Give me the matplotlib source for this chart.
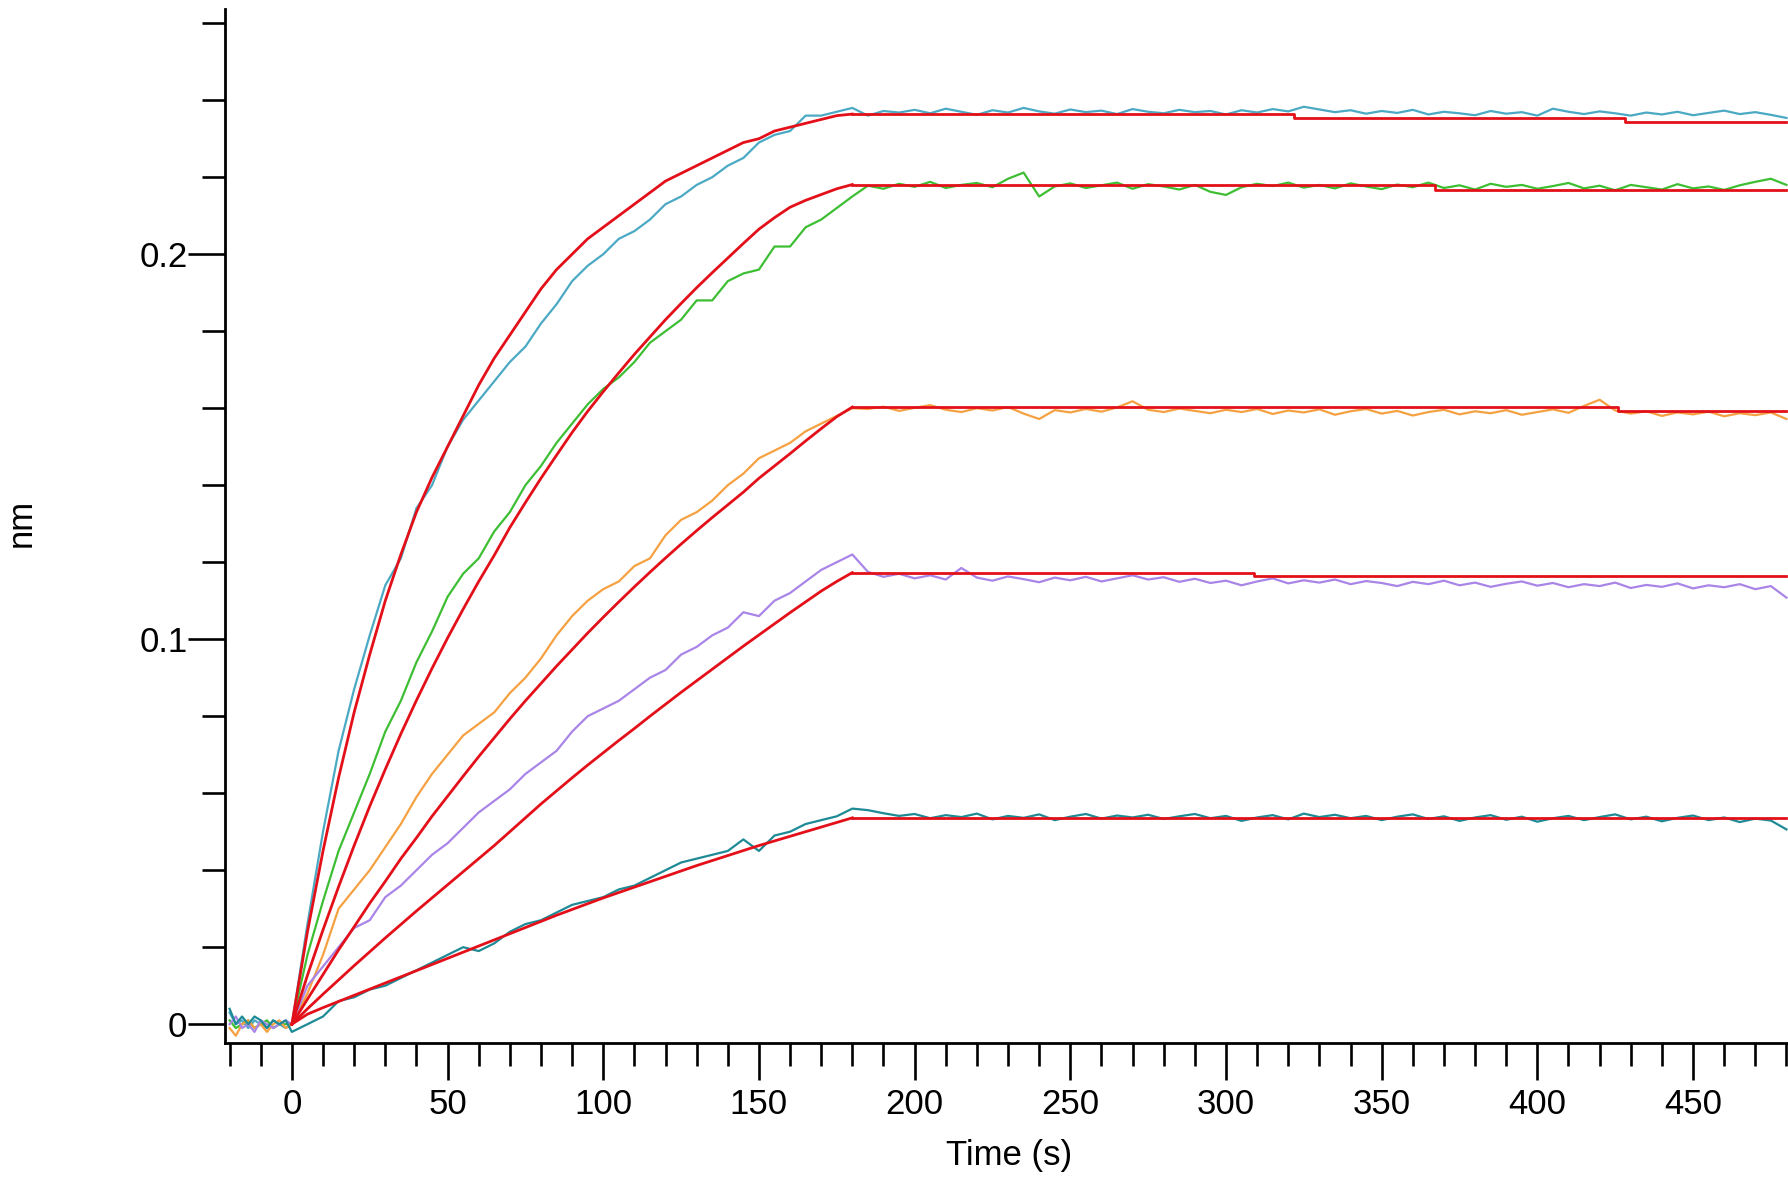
import matplotlib
matplotlib.use("Agg")
import matplotlib.pyplot as plt
from matplotlib.ticker import MultipleLocator, FixedLocator

plt.rcParams['font.family'] = ['Liberation Sans', 'DejaVu Sans']

# sample times (s)
base_t = [-20, -18, -16, -14, -12, -10, -8, -6, -4, -2]
assoc_t = list(range(0, 181, 5))
dissoc_t = list(range(185, 481, 5))

# measured traces (nm): baseline, association, dissociation
cyan_base = [0.003, 0.000, 0.001, -0.001, 0.001, 0.000, -0.001, 0.001, 0.000, -0.001]
cyan_assoc = [0.000, 0.026, 0.050, 0.071, 0.087, 0.101, 0.114, 0.121, 0.134, 0.140,
              0.150, 0.157, 0.162, 0.167, 0.172, 0.176, 0.182, 0.187, 0.193, 0.197,
              0.200, 0.204, 0.206, 0.209, 0.213, 0.215, 0.218, 0.220, 0.223, 0.225,
              0.229, 0.231, 0.232, 0.236, 0.236, 0.237, 0.238]
cyan_dissoc = [0.2360, 0.2372, 0.2368, 0.2375, 0.2366, 0.2378, 0.2370, 0.2362, 0.2374, 0.2368,
               0.2380, 0.2371, 0.2365, 0.2376, 0.2369, 0.2373, 0.2364, 0.2377, 0.2370, 0.2366,
               0.2375, 0.2369, 0.2372, 0.2363, 0.2374, 0.2368, 0.2377, 0.2371, 0.2383, 0.2376,
               0.2369, 0.2374, 0.2365, 0.2372, 0.2367, 0.2375, 0.2363, 0.2370, 0.2366, 0.2361,
               0.2372, 0.2365, 0.2369, 0.2360, 0.2378, 0.2370, 0.2364, 0.2371, 0.2366, 0.2360,
               0.2368, 0.2363, 0.2370, 0.2361, 0.2367, 0.2373, 0.2364, 0.2369, 0.2362, 0.2354]

green_base = [0.001, -0.001, 0.000, 0.001, -0.001, 0.000, 0.001, -0.001, 0.000, 0.000]
green_assoc = [0.000, 0.018, 0.032, 0.045, 0.055, 0.065, 0.076, 0.084, 0.094, 0.102,
               0.111, 0.117, 0.121, 0.128, 0.133, 0.140, 0.145, 0.151, 0.156, 0.161,
               0.165, 0.168, 0.172, 0.177, 0.180, 0.183, 0.188, 0.188, 0.193, 0.195,
               0.196, 0.202, 0.202, 0.207, 0.209, 0.212, 0.215]
green_dissoc = [0.2178, 0.2170, 0.2183, 0.2175, 0.2188, 0.2172, 0.2180, 0.2185, 0.2174, 0.2196,
                0.2212, 0.2150, 0.2176, 0.2184, 0.2172, 0.2179, 0.2186, 0.2170, 0.2182, 0.2176,
                0.2168, 0.2180, 0.2162, 0.2154, 0.2174, 0.2183, 0.2177, 0.2186, 0.2173, 0.2180,
                0.2171, 0.2184, 0.2176, 0.2169, 0.2181, 0.2174, 0.2186, 0.2172, 0.2179, 0.2168,
                0.2183, 0.2175, 0.2180, 0.2170, 0.2177, 0.2185, 0.2171, 0.2178, 0.2166, 0.2180,
                0.2174, 0.2168, 0.2182, 0.2171, 0.2176, 0.2167, 0.2179, 0.2188, 0.2196, 0.2180]

orange_base = [-0.001, -0.003, 0.000, 0.001, -0.001, 0.000, -0.002, 0.000, 0.001, -0.001]
orange_assoc = [0.000, 0.008, 0.018, 0.030, 0.035, 0.040, 0.046, 0.052, 0.059, 0.065,
                0.070, 0.075, 0.078, 0.081, 0.086, 0.090, 0.095, 0.101, 0.106, 0.110,
                0.113, 0.115, 0.119, 0.121, 0.127, 0.131, 0.133, 0.136, 0.140, 0.143,
                0.147, 0.149, 0.151, 0.154, 0.156, 0.158, 0.160]
orange_dissoc = [0.1598, 0.1604, 0.1593, 0.1601, 0.1608, 0.1596, 0.1590, 0.1600, 0.1594, 0.1603,
                 0.1586, 0.1572, 0.1595, 0.1589, 0.1598, 0.1591, 0.1602, 0.1618, 0.1596, 0.1590,
                 0.1599, 0.1593, 0.1587, 0.1596, 0.1590, 0.1598, 0.1585, 0.1594, 0.1589, 0.1597,
                 0.1583, 0.1592, 0.1598, 0.1586, 0.1593, 0.1581, 0.1590, 0.1596, 0.1584, 0.1592,
                 0.1587, 0.1595, 0.1583, 0.1590, 0.1597, 0.1588, 0.1606, 0.1622, 0.1594, 0.1586,
                 0.1592, 0.1580, 0.1589, 0.1584, 0.1591, 0.1579, 0.1587, 0.1582, 0.1589, 0.1572]

purple_base = [0.000, 0.002, -0.001, 0.000, -0.002, 0.001, 0.000, -0.001, 0.000, 0.001]
purple_assoc = [0.000, 0.010, 0.015, 0.020, 0.025, 0.027, 0.033, 0.036, 0.040, 0.044,
                0.047, 0.051, 0.055, 0.058, 0.061, 0.065, 0.068, 0.071, 0.076, 0.080,
                0.082, 0.084, 0.087, 0.090, 0.092, 0.096, 0.098, 0.101, 0.103, 0.107,
                0.106, 0.110, 0.112, 0.115, 0.118, 0.120, 0.122]
purple_dissoc = [0.1175, 0.1162, 0.1170, 0.1158, 0.1166, 0.1155, 0.1185, 0.1160, 0.1152, 0.1163,
                 0.1156, 0.1148, 0.1160, 0.1153, 0.1162, 0.1150, 0.1158, 0.1166, 0.1155, 0.1161,
                 0.1149, 0.1157, 0.1146, 0.1152, 0.1140, 0.1150, 0.1158, 0.1145, 0.1153, 0.1147,
                 0.1155, 0.1143, 0.1151, 0.1146, 0.1138, 0.1149, 0.1143, 0.1152, 0.1140, 0.1147,
                 0.1136, 0.1144, 0.1150, 0.1139, 0.1146, 0.1135, 0.1143, 0.1138, 0.1147, 0.1133,
                 0.1141, 0.1136, 0.1145, 0.1132, 0.1140, 0.1135, 0.1143, 0.1130, 0.1138, 0.1108]

teal_base = [0.004, 0.000, 0.002, 0.000, 0.002, 0.001, -0.001, 0.001, 0.000, 0.001]
teal_assoc = [-0.002, 0.000, 0.002, 0.006, 0.007, 0.009, 0.010, 0.012, 0.014, 0.016,
              0.018, 0.020, 0.019, 0.021, 0.024, 0.026, 0.027, 0.029, 0.031, 0.032,
              0.033, 0.035, 0.036, 0.038, 0.040, 0.042, 0.043, 0.044, 0.045, 0.048,
              0.045, 0.049, 0.050, 0.052, 0.053, 0.054, 0.056]
teal_dissoc = [0.0556, 0.0548, 0.0541, 0.0546, 0.0535, 0.0543, 0.0538, 0.0547, 0.0532, 0.0541,
               0.0536, 0.0545, 0.0530, 0.0539, 0.0546, 0.0534, 0.0542, 0.0537, 0.0544, 0.0533,
               0.0540, 0.0546, 0.0535, 0.0541, 0.0528, 0.0537, 0.0543, 0.0532, 0.0547, 0.0538,
               0.0544, 0.0535, 0.0541, 0.0530, 0.0539, 0.0545, 0.0533, 0.0540, 0.0528, 0.0537,
               0.0543, 0.0531, 0.0539, 0.0526, 0.0535, 0.0541, 0.0530, 0.0538, 0.0545, 0.0532,
               0.0539, 0.0527, 0.0536, 0.0542, 0.0530, 0.0537, 0.0525, 0.0534, 0.0529, 0.0506]

# fitted curves (red): association on assoc_t, dissociation as steps
cyan_fit = [0.000, 0.024, 0.045, 0.064, 0.081, 0.096, 0.110, 0.122, 0.133, 0.142,
            0.150, 0.158, 0.166, 0.173, 0.179, 0.185, 0.191, 0.196, 0.200, 0.204,
            0.207, 0.210, 0.213, 0.216, 0.219, 0.221, 0.223, 0.225, 0.227, 0.229,
            0.230, 0.232, 0.233, 0.234, 0.235, 0.236, 0.2364]
green_fit = [0.000, 0.0127, 0.0245, 0.0357, 0.0464, 0.0566, 0.0662, 0.0754, 0.0841, 0.0924,
             0.1003, 0.1078, 0.1150, 0.1218, 0.1290, 0.1355, 0.1418, 0.1478, 0.1537, 0.1592,
             0.1643, 0.1692, 0.1740, 0.1785, 0.1830, 0.1872, 0.1913, 0.1952, 0.1990, 0.2028,
             0.2065, 0.2095, 0.2122, 0.2140, 0.2155, 0.2170, 0.2181]
orange_fit = [0.000, 0.0065, 0.0129, 0.0193, 0.0253, 0.0314, 0.0371, 0.0430, 0.0484, 0.0540,
              0.0592, 0.0644, 0.0695, 0.0744, 0.0793, 0.0840, 0.0885, 0.0930, 0.0973, 0.1016,
              0.1057, 0.1097, 0.1136, 0.1174, 0.1211, 0.1247, 0.1282, 0.1316, 0.1349, 0.1382,
              0.1418, 0.1450, 0.1482, 0.1515, 0.1547, 0.1578, 0.1603]
purple_fit = [0.000, 0.0040, 0.0078, 0.0115, 0.0152, 0.0188, 0.0224, 0.0259, 0.0294, 0.0328,
              0.0362, 0.0396, 0.0430, 0.0464, 0.0500, 0.0536, 0.0572, 0.0606, 0.0640, 0.0673,
              0.0705, 0.0737, 0.0768, 0.0800, 0.0831, 0.0862, 0.0892, 0.0922, 0.0952, 0.0982,
              0.1011, 0.1040, 0.1069, 0.1097, 0.1125, 0.1150, 0.1173]
teal_fit = [0.000, 0.0026, 0.0043, 0.0059, 0.0075, 0.0091, 0.0107, 0.0123, 0.0139, 0.0155,
            0.0171, 0.0187, 0.0203, 0.0219, 0.0235, 0.0251, 0.0267, 0.0283, 0.0298, 0.0313,
            0.0328, 0.0342, 0.0356, 0.0370, 0.0384, 0.0398, 0.0412, 0.0425, 0.0438, 0.0451,
            0.0464, 0.0476, 0.0488, 0.0500, 0.0512, 0.0524, 0.0536]

cyan_off_t = [180, 322, 428, 480]
cyan_off = [0.2364, 0.2353, 0.2344, 0.2344]
green_off_t = [180, 367, 480]
green_off = [0.2181, 0.2166, 0.2166]
orange_off_t = [180, 426, 480]
orange_off = [0.1603, 0.1594, 0.1594]
purple_off_t = [180, 309, 480]
purple_off = [0.1173, 0.1164, 0.1164]
teal_off_t = [180, 480]
teal_off = [0.0536, 0.0536]

traces = [
    (cyan_base, cyan_assoc, cyan_dissoc, '#4BA9C4'),
    (green_base, green_assoc, green_dissoc, '#3DBE33'),
    (orange_base, orange_assoc, orange_dissoc, '#F5A142'),
    (purple_base, purple_assoc, purple_dissoc, '#A985E8'),
    (teal_base, teal_assoc, teal_dissoc, '#1E8A95'),
]
fits = [
    (cyan_fit, cyan_off_t, cyan_off),
    (green_fit, green_off_t, green_off),
    (orange_fit, orange_off_t, orange_off),
    (purple_fit, purple_off_t, purple_off),
    (teal_fit, teal_off_t, teal_off),
]
fit_color = '#E3101A'

fig = plt.figure(figsize=(17.88, 11.81), dpi=100)
ax = fig.add_axes([0.1258, 0.1168, 0.8742, 0.8756])

t_all = base_t + assoc_t + dissoc_t
for b, a, d, c in traces:
    ax.plot(t_all, b + a + d, color=c, lw=1.6, zorder=2)

for f, ot, oy in fits:
    ax.plot(assoc_t, f, color=fit_color, lw=2.0, zorder=3)
    ax.plot(ot, oy, color=fit_color, lw=2.0, drawstyle='steps-post', zorder=3)

ax.set_xlim(-21.5, 480.5)
ax.set_ylim(-0.0049, 0.2637)

ax.spines['top'].set_visible(False)
ax.spines['right'].set_visible(False)
for s in ['left', 'bottom']:
    ax.spines[s].set_linewidth(2.0)

ax.xaxis.set_major_locator(MultipleLocator(50))
ax.xaxis.set_minor_locator(MultipleLocator(10))
ax.yaxis.set_major_locator(FixedLocator([0, 0.1, 0.2]))
ax.yaxis.set_minor_locator(MultipleLocator(0.02))
ax.set_yticklabels(['0', '0.1', '0.2'])

ax.tick_params(which='major', direction='out', length=26.5, width=1.9, labelsize=25)
ax.tick_params(which='minor', direction='out', length=16.5, width=1.9)
ax.tick_params(axis='x', which='major', pad=6)
ax.tick_params(axis='y', which='major', pad=0.5)

fig.text(0.5643, 0.0212, 'Time (s)', fontsize=25, ha='center', va='center')
fig.text(0.0117, 0.5571, 'nm', fontsize=25, ha='center', va='center', rotation=90)

fig.savefig('out.png', dpi=100)
